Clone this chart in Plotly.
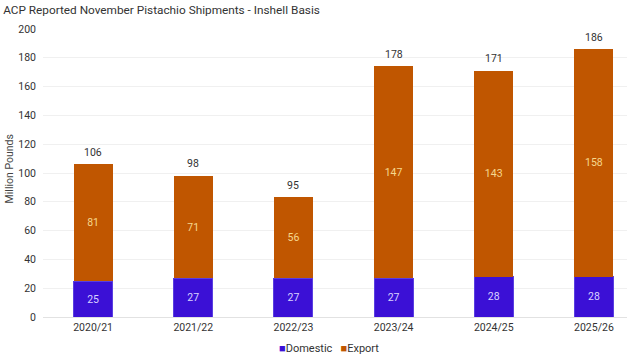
import plotly.graph_objects as go

seasons = ["2020/21", "2021/22", "2022/23", "2023/24", "2024/25", "2025/26"]
domestic = [25, 27, 27, 27, 28, 28]
export = [81, 71, 56, 147, 143, 158]
totals = [106, 98, 95, 178, 171, 186]
y_ticks = [0, 20, 40, 60, 80, 100, 120, 140, 160, 180, 200]

FONT = "Roboto"
BLUE = "#3B10D6"
ORANGE = "#C05600"

fig = go.Figure()
fig.add_trace(go.Bar(
    x=seasons, y=domestic, name="Domestic",
    marker=dict(color=BLUE, line=dict(color="#5A3FE0", width=1)),
    text=domestic, textposition="inside", insidetextanchor="middle",
    textfont=dict(color="#D9D2FF", size=10.5, family=FONT),
    width=0.39, showlegend=False,
))
fig.add_trace(go.Bar(
    x=seasons, y=export, name="Export",
    marker=dict(color=ORANGE, line=dict(width=0)),
    text=export, textposition="inside", insidetextanchor="middle",
    textfont=dict(color="#F6D88E", size=10.5, family=FONT),
    width=0.39, showlegend=False,
))

stack_tops = [d + e for d, e in zip(domestic, export)]
for s, top, tot in zip(seasons, stack_tops, totals):
    fig.add_annotation(x=s, y=top, text=str(tot), showarrow=False,
                       yanchor="middle", yshift=12,
                       font=dict(color="#333333", size=10.5, family=FONT))

# y-axis title
fig.add_annotation(xref="paper", yref="paper", x=-0.057, y=0.515, xanchor="center",
                   yanchor="middle", text="Million Pounds", textangle=-90,
                   showarrow=False, font=dict(size=10.5, color="#444444", family=FONT))

# legend
fig.add_annotation(xref="paper", yref="paper", x=0.49, y=-0.11, xanchor="center",
                   yanchor="middle", showarrow=False,
                   text=(f'<span style="color:{BLUE}">■</span>Domestic   '
                         f'<span style="color:{ORANGE}">■</span>Export'),
                   font=dict(size=11, color="#333333", family=FONT))

fig.update_layout(
    barmode="stack",
    width=627, height=358,
    margin=dict(l=43, r=0, t=29, b=41, autoexpand=False),
    paper_bgcolor="white", plot_bgcolor="white",
    font=dict(family=FONT, color="#333333", size=10.5),
    showlegend=False,
    title=dict(text="ACP Reported November Pistachio Shipments - Inshell Basis",
               x=0.005, xanchor="left", y=0.972, yanchor="middle",
               font=dict(size=11.8, color="#333333", family=FONT)),
    xaxis=dict(range=[-0.5, 5.33], showgrid=False, showline=True, automargin=False,
               linecolor="#E2E2E2", linewidth=1, ticks="",
               tickfont=dict(size=10.5, color="#333333")),
    yaxis=dict(range=[0, 200], tickvals=y_ticks, showgrid=True, automargin=False,
               gridcolor="#F0F0F0", zeroline=False, ticks="", ticklabelstandoff=6,
               tickfont=dict(size=10.5, color="#333333")),
)

fig.write_html("out.html", config={"displayModeBar": False},
               post_script="document.body.style.margin='0';document.body.style.padding='0';")
